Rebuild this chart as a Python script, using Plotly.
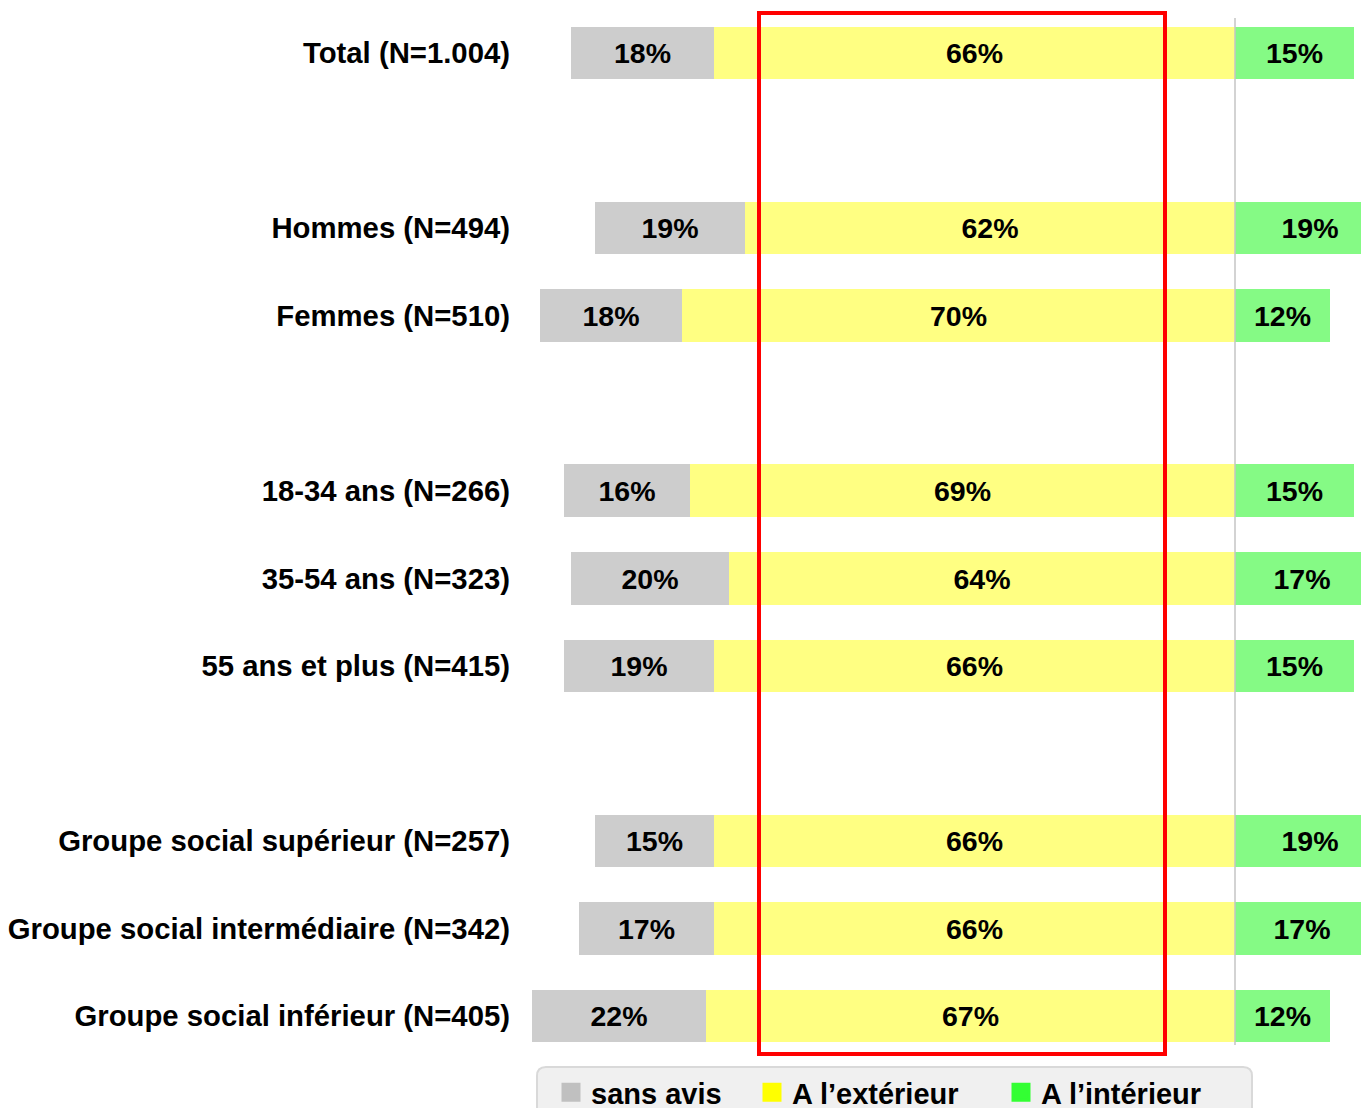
import plotly.graph_objects as go

categories = ["Total (N=1.004)", "Hommes (N=494)", "Femmes (N=510)",
              "18-34 ans (N=266)", "35-54 ans (N=323)", "55 ans et plus (N=415)",
              "Groupe social supérieur (N=257)", "Groupe social intermédiaire (N=342)",
              "Groupe social inférieur (N=405)"]
positions = [0, 2, 3, 5, 6, 7, 9, 10, 11]
sans_avis = [18, 19, 18, 16, 20, 19, 15, 17, 22]
exterieur = [66, 62, 70, 69, 64, 66, 66, 66, 67]
interieur = [15, 19, 12, 15, 17, 15, 19, 17, 12]

# page body has an 8px margin: work in reference pixels, shift by OFF
OFF = 8
W, H = 1369 - OFF, 1108 - OFF
ML, MR = 530 - OFF, 0
MT = 10 - OFF
MB = (1108 - 1058)
zero_px = 1235 - OFF
scale = 7.9
xr = [-(zero_px - ML) / scale, (W - MR - zero_px) / scale]
plot_w = W - ML - MR
plot_h = H - MT - MB

FONT = "Liberation Sans"
txtfont = dict(family=FONT, size=28.5, color="black", weight="bold")

def ypaper(py_ref):
    return (H - MB - (py_ref - OFF)) / plot_h

def xpaper(px_ref):
    return (px_ref - 530) / plot_w

px_per_slot = (1016 - 53) / 11
y_top = -(53 - 10) / px_per_slot
y_bot = 11 + (1058 - 1016) / px_per_slot

fig = go.Figure()
fig.add_trace(go.Bar(
    y=positions, x=[-v for v in exterieur], orientation="h", name="A l’extérieur",
    marker=dict(color="#ffff82", line=dict(width=0)), width=0.6, showlegend=False,
    text=[f"{v}%" for v in exterieur], textposition="inside", insidetextanchor="middle",
    textangle=0, textfont=txtfont, hoverinfo="skip"))
fig.add_trace(go.Bar(
    y=positions, x=[-v for v in sans_avis], orientation="h", name="sans avis",
    marker=dict(color="#cdcdcd", line=dict(width=0)), width=0.6, showlegend=False,
    text=[f"{v}%" for v in sans_avis], textposition="inside", insidetextanchor="middle",
    textangle=0, textfont=txtfont, hoverinfo="skip"))
fig.add_trace(go.Bar(
    y=positions, x=interieur, orientation="h", name="A l’intérieur",
    marker=dict(color="#85fa85", line=dict(width=0)), width=0.6, showlegend=False,
    text=[f"{v}%" for v in interieur], textposition="inside", insidetextanchor="middle",
    textangle=0, textfont=txtfont, hoverinfo="skip"))

# legend entries (square swatches)
legend_names = ["sans avis", "A l’extérieur", "A l’intérieur"]
legend_colors = ["#c0c0c0", "#ffff00", "#33ff33"]
legend_widths = [156, 204, 185]
for name, col, lw in zip(legend_names, legend_colors, legend_widths):
    fig.add_trace(go.Scatter(x=[None], y=[None], mode="markers", name=name,
                             marker=dict(symbol="square", size=20, color=col,
                                         line=dict(color=col, width=3)),
                             legendwidth=lw, hoverinfo="skip"))

fig.add_shape(type="line", xref="x", yref="paper", x0=0, x1=0,
              y0=ypaper(1045), y1=ypaper(18), line=dict(color="#c4c4c4", width=1.5), layer="above")
fig.add_shape(type="rect", xref="x", yref="paper",
              x0=(759 - 1235) / scale, x1=(1165 - 1235) / scale,
              y0=ypaper(1054), y1=ypaper(13), line=dict(color="#ff0000", width=4), layer="above")

# rounded legend box
def rounded_path(x0, x1, y0, y1, r):
    rx, ry = r / plot_w, r / plot_h
    X0, X1 = xpaper(x0), xpaper(x1)
    Ytop, Ybot = ypaper(y0), ypaper(y1)
    return (f"M{X0+rx},{Ytop} L{X1-rx},{Ytop} Q{X1},{Ytop} {X1},{Ytop-ry} "
            f"L{X1},{Ybot+ry} Q{X1},{Ybot} {X1-rx},{Ybot} L{X0+rx},{Ybot} "
            f"Q{X0},{Ybot} {X0},{Ybot+ry} L{X0},{Ytop-ry} Q{X0},{Ytop} {X0+rx},{Ytop} Z")

fig.add_shape(type="path", xref="paper", yref="paper",
              path=rounded_path(537, 1252, 1067, 1130, 9),
              fillcolor="#f0f0f0", line=dict(color="#d9d9d9", width=2), layer="below")

fig.update_layout(
    width=W, height=H, barmode="relative", bargap=0,
    margin=dict(l=ML, r=MR, t=MT, b=MB, pad=0, autoexpand=False),
    paper_bgcolor="white", plot_bgcolor="rgba(0,0,0,0)",
    uniformtext=dict(minsize=28, mode="show"),
    xaxis=dict(range=xr, visible=False, showgrid=False, zeroline=False, fixedrange=True),
    yaxis=dict(range=[y_bot, y_top], tickmode="array", tickvals=positions, ticktext=categories,
               showgrid=False, zeroline=False, showline=False, ticks="",
               ticklabelstandoff=19, tickfont=dict(family=FONT, size=29.3, color="black", weight="bold")),
    legend=dict(orientation="h", x=xpaper(551), y=ypaper(1067),
                xanchor="left", yanchor="top", bgcolor="rgba(0,0,0,0)", borderwidth=0,
                font=dict(family=FONT, size=29, color="black", weight="bold"),
                traceorder="normal", itemclick=False, itemsizing="trace"),
    showlegend=True,
)
fig.write_html("out.html")
